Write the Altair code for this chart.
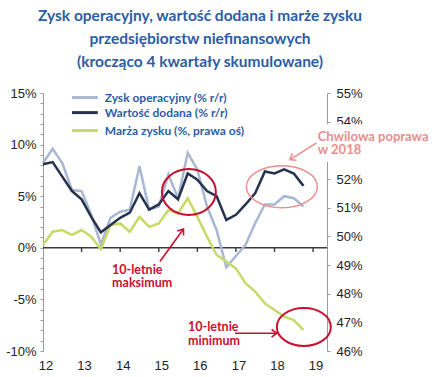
import altair as alt
import pandas as pd

# ---------------- data ----------------
quarters = [f"{y}Q{q}" for y in range(2012, 2019) for q in range(1, 5)]
zysk = [8.2, 9.6, 8.2, 5.6, 5.5, 3.2, 0.3, 2.9, 3.5, 3.7, 7.9, 3.7, 4.0, 7.1,
        4.8, 9.2, 7.6, 4.0, 1.7, -1.9, -0.8, 0.3, 2.4, 4.2, 4.2, 5.0, 4.8, 4.0]
wartosc = [8.1, 8.3, 6.9, 5.5, 4.7, 3.0, 1.5, 2.2, 2.9, 3.4, 5.3, 3.7, 4.2, 5.5,
           4.7, 7.2, 6.6, 5.5, 5.0, 2.7, 3.2, 4.2, 5.3, 7.4, 7.2, 7.6, 7.2, 6.0]
marza = [49.7, 50.16, 50.22, 50.05, 50.22, 49.99, 49.55, 50.39, 50.45, 50.16,
         50.68, 50.33, 50.45, 50.92, 50.80, 51.33, 50.68, 49.99, 49.35, 49.12,
         48.88, 48.36, 48.07, 47.66, 47.43, 47.20, 47.08, 46.73]
year_ticks = [2012, 2013, 2014, 2015, 2016, 2017, 2018, 2019]
year_labels = ["12", "13", "14", "15", "16", "17", "18", "19"]
left_ticks = list(range(-10, 16))
right_ticks = list(range(46, 56))
legend_labels = ["Zysk operacyjny (% r/r)", "Wartość dodana (% r/r)",
                 "Marża zysku (%, prawa oś)"]
title_lines = ["Zysk operacyjny, wartość dodana i marże zysku",
               "przedsiębiorstw niefinansowych",
               "(krocząco 4 kwartały skumulowane)"]

t = [int(s[:4]) + (int(s[-1]) - 1) / 4 for s in quarters]
df = pd.DataFrame({"t": t, "zysk": zysk, "wartosc": wartosc, "marza": marza})

# left axis spans -10..15, right axis spans 46..55 over the same height
L0, L1, R0, R1 = -10, 15, 46, 55
K = (L1 - L0) / (R1 - R0)
right_pos = [L0 + (v - R0) * K for v in right_ticks]

# ---------------- styles ----------------
C_GRAY = "#a9b7d2"
C_DARK = "#26334d"
C_GREEN = "#c6db66"
C_BLUE = "#2c5da6"
C_RED = "#c8102e"
C_PINK = "#ec8e8e"
C_AXIS = "#3a3a3a"
F_AX = "Liberation Sans"
F_TX = "Lato"

X = alt.Scale(domain=[2012, 2019.36], nice=False, zero=False)
YL = alt.Scale(domain=[L0, L1], nice=False, zero=False)

y_axis = alt.Axis(values=left_ticks, orient="left",
                  labelExpr="datum.value % 5 == 0 ? datum.value + '%' : ''",
                  domainColor="#9a9a9a", tickColor="#9a9a9a", tickSize=3,
                  grid=False, title=None, labelFont=F_AX, labelFontSize=13,
                  labelColor="#222222", labelPadding=4)
yr_axis = alt.Axis(values=right_pos, orient="right",
                   labelExpr=f"round((datum.value - ({L0})) / {K} + {R0}) + '%'",
                   domainColor="#9a9a9a", tickColor="#9a9a9a", tickSize=3,
                   grid=False, title=None, labelFont=F_AX, labelFontSize=13,
                   labelColor="#222222", labelPadding=6)


def xe(field="x"):
    return alt.X(f"{field}:Q", scale=X, axis=None)


def ye(field="y"):
    return alt.Y(f"{field}:Q", scale=YL, axis=None)


def seg(x1, y1, x2, y2, color, sw):
    d = pd.DataFrame({"x": [x1, x2], "y": [y1, y2], "o": [0, 1]})
    return alt.Chart(d).mark_line(color=color, strokeWidth=sw).encode(
        x=xe(), y=ye(), order="o:Q")


layers = []

# ---------------- zero line with year ticks ----------------
layers.append(seg(2012.0, 0.001, 2019.36, 0.001, C_AXIS, 1.4))
for v in year_ticks[1:]:
    layers.append(seg(float(v), 0.001, float(v), -0.4, C_AXIS, 1.4))

# ---------------- series ----------------
layers.append(alt.Chart(df).mark_line(color=C_GRAY, strokeWidth=2.5).encode(
    x=xe("t"), y=alt.Y("zysk:Q", scale=YL, axis=y_axis)))
layers.append(alt.Chart(df).transform_calculate(
    mpos=f"{L0} + (datum.marza - {R0}) * {K}").mark_line(
    color=C_GREEN, strokeWidth=2.5).encode(
    x=xe("t"), y=alt.Y("mpos:Q", scale=YL, axis=yr_axis)))
layers.append(alt.Chart(df).mark_line(color=C_DARK, strokeWidth=2.5).encode(
    x=xe("t"), y=ye("wartosc")))

# year labels under the plot
yr_df = pd.DataFrame({"x": [float(v) for v in year_ticks], "lab": year_labels,
                      "yl": [-11.5] * 8})
layers.append(alt.Chart(yr_df).mark_text(font=F_AX, fontSize=13, color="#222222",
                                         align="center", baseline="middle",
                                         dx=3).encode(
    x=xe(), y=ye("yl"), text="lab:N"))


# ---------------- annotations ----------------
def ellipse(x, y, w, h, color, sw):
    a = h / w
    path = f"M -1 0 A 1 {a:.3f} 0 1 1 1 0 A 1 {a:.3f} 0 1 1 -1 0 Z"
    d = pd.DataFrame({"x": [x], "y": [y]})
    return [alt.Chart(d).mark_point(shape=path, size=w * w, filled=False,
                                    stroke=color, strokeWidth=sw, opacity=1).encode(
        x=xe(), y=ye())]


def arrow(x1, y1, x2, y2, ang, color):
    h = pd.DataFrame({"x": [x2], "y": [y2]})
    head = alt.Chart(h).mark_point(
        shape="M -0.75 1 L 0 0 L 0.75 1", size=110, filled=False,
        stroke=color, strokeWidth=1.6, angle=ang, opacity=1).encode(x=xe(), y=ye())
    return [seg(x1, y1, x2, y2, color, 1.6), head]


def label(lines, x, ys, color, size):
    d = pd.DataFrame({"x": [x] * len(lines), "y": ys, "txt": lines})
    return [alt.Chart(d).mark_text(align="left", baseline="middle", font=F_TX,
                                   fontWeight="bold", fontSize=size,
                                   color=color).encode(x=xe(), y=ye(), text="txt:N")]


layers += ellipse(2015.78, 5.4, 54, 46, C_RED, 2)
layers += ellipse(2018.19, 5.92, 71, 42, C_PINK, 1.5)
layers += ellipse(2018.76, -7.67, 54, 38, C_RED, 2)
layers += arrow(2015.03, -1.33, 2015.64, 1.82, 36, C_RED)
layers += arrow(2016.98, -8.28, 2018.06, -8.28, 90, C_RED)
layers += arrow(2019.09, 10.17, 2018.40, 8.54, 238, C_PINK)

# white patch behind the pink note (hides the right axis there)
wp = pd.DataFrame({"x": [2019.72], "y": [10.15]})
layers.append(alt.Chart(wp).mark_point(
    shape="M -1 -0.78 H 1 V 0.78 H -1 Z", size=48 * 48, filled=True,
    fill="white", opacity=1).encode(x=xe(), y=ye()))

layers += label(["10-letnie", "maksimum"], 2013.79, [-2.14, -3.45], C_RED, 12.5)
layers += label(["10-letnie", "minimum"], 2015.76, [-7.67, -9.0], C_RED, 12.5)
layers += label(["Chwilowa poprawa", "w 2018"], 2019.12, [10.78, 9.5], C_PINK, 13)

# ---------------- legend ----------------
leg_df = pd.DataFrame({"x": [2012.75] * 3, "xe": [2013.42] * 3,
                       "y": [14.56, 13.1, 11.36], "lab": legend_labels,
                       "col": [C_GRAY, C_DARK, C_GREEN], "tx": [2013.6] * 3})
layers.append(alt.Chart(leg_df).mark_rule(strokeWidth=3).encode(
    x=xe(), x2="xe:Q", y=ye(),
    color=alt.Color("col:N", scale=None, legend=None)))
layers.append(alt.Chart(leg_df).mark_text(align="left", baseline="middle",
                                          font=F_TX, fontWeight="bold",
                                          fontSize=12, color=C_BLUE).encode(
    x=alt.X("tx:Q", scale=X, axis=None), y=ye(), text="lab:N"))

chart = alt.layer(*layers).resolve_axis(y="independent").properties(
    width=284, height=258,
    autosize=alt.AutoSizeParams(type="none"),
    padding={"left": 43, "top": 93, "right": 109, "bottom": 26},
    background="white",
    title=alt.TitleParams(text=title_lines, font=F_TX, fontSize=15.5,
                          fontWeight="bold", color=C_BLUE, anchor="middle",
                          dx=15, offset=17, lineHeight=23),
).configure_view(stroke=None)

chart.save("out.html", embed_options={"renderer": "svg", "actions": False})
